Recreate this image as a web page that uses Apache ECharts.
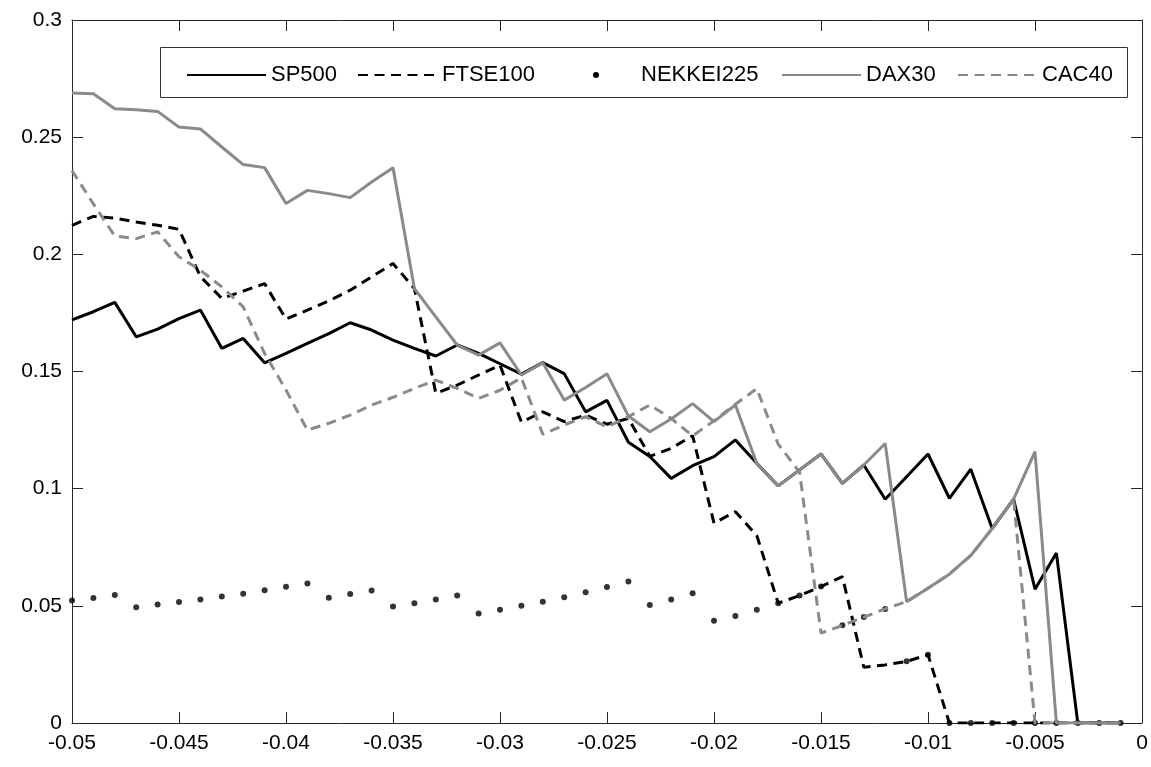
<!DOCTYPE html>
<html>
<head>
<meta charset="utf-8">
<script src="https://cdn.jsdelivr.net/npm/echarts@6/dist/echarts.min.js"></script>
<style>
html,body{margin:0;padding:0;background:#fff;}
#chart{width:1151px;height:767px;}
</style>
</head>
<body>
<div id="chart"></div>
<script>
// x positions (threshold)
const xValues = [-0.050,-0.049,-0.048,-0.047,-0.046,-0.045,-0.044,-0.043,-0.042,-0.041,
                 -0.040,-0.039,-0.038,-0.037,-0.036,-0.035,-0.034,-0.033,-0.032,-0.031,
                 -0.030,-0.029,-0.028,-0.027,-0.026,-0.025,-0.024,-0.023,-0.022,-0.021,
                 -0.020,-0.019,-0.018,-0.017,-0.016,-0.015,-0.014,-0.013,-0.012,-0.011,
                 -0.010,-0.009,-0.008,-0.007,-0.006,-0.005,-0.004,-0.003,-0.002,-0.001];

const sp500 = [0.172,0.1755,0.1795,0.1648,0.1681,0.1726,0.1762,0.1599,0.1641,0.1537,
               0.1577,0.162,0.1662,0.1708,0.1677,0.1634,0.1599,0.1566,0.1613,0.1577,
               0.1533,0.1489,0.1538,0.1491,0.1328,0.1377,0.1198,0.1137,0.1044,0.1098,
               0.1137,0.1208,0.1108,0.1012,0.108,0.1148,0.1023,0.1101,0.0955,0.1051,
               0.1148,0.0959,0.1083,0.083,0.0955,0.0571,0.0725,0,0,0];

const ftse100 = [0.2124,0.2162,0.2155,0.2138,0.2124,0.2107,0.1905,0.1812,0.1843,0.1875,
                 0.1724,0.1762,0.1801,0.1847,0.1904,0.1961,0.1854,0.1407,0.1442,0.1485,
                 0.1527,0.1284,0.1328,0.1286,0.1314,0.1275,0.13,0.1138,0.1172,0.1226,
                 0.0853,0.0902,0.08,0.0511,0.0544,0.0582,0.0625,0.0238,0.0248,0.0263,
                 0.0291,0,0,0,0,0,0,0,0,0];

const nekkei225 = [0.0523,0.0533,0.0546,0.0494,0.0506,0.0516,0.0527,0.054,0.0552,0.0567,
                   0.0581,0.0595,0.0534,0.055,0.0565,0.0497,0.0511,0.0527,0.0544,0.0467,
                   0.0483,0.05,0.0517,0.0537,0.0558,0.058,0.0604,0.0504,0.0527,0.0554,
                   0.0436,0.0457,0.0483,0.0511,0.0544,0.0582,0.0417,0.0452,0.0487,0.0263,
                   0.0291,0,0,0,0,0,0,0,0,0];

const dax30 = [0.2688,0.2685,0.2621,0.2617,0.261,0.2543,0.2535,0.2458,0.2383,0.237,
               0.2217,0.2273,0.2259,0.2242,0.2309,0.237,0.1854,0.1733,0.1613,0.157,
               0.1622,0.1485,0.1537,0.1378,0.1432,0.149,0.131,0.1243,0.1297,0.1363,
               0.1286,0.1357,0.1108,0.1012,0.108,0.1148,0.1023,0.1101,0.1193,0.0518,
               0.0575,0.0635,0.0715,0.083,0.0955,0.1158,0,0,0,0];

const cac40 = [0.2358,0.2215,0.2078,0.2067,0.2096,0.199,0.1932,0.1861,0.1776,0.1577,
               0.1421,0.125,0.1279,0.1314,0.1357,0.139,0.1428,0.1463,0.1428,0.1385,
               0.142,0.1473,0.1232,0.1272,0.1307,0.1264,0.1307,0.1357,0.13,0.1225,
               0.129,0.136,0.1427,0.119,0.107,0.0384,0.0416,0.0452,0.0487,0.0518,
               0.0575,0.0635,0.0715,0.083,0.0955,0,0,0,0,0];

const seriesNames = ['SP500','FTSE100','NEKKEI225','DAX30','CAC40'];
const xTickLabels = ['-0.05','-0.045','-0.04','-0.035','-0.03','-0.025','-0.02','-0.015','-0.01','-0.005','0'];
const yTickLabels = ['0','0.05','0.1','0.15','0.2','0.25','0.3'];

const X_MIN = -0.05, X_MAX = 0, X_INT = 0.005;
const Y_MIN = 0, Y_MAX = 0.3, Y_INT = 0.05;

const pairs = arr => arr.map((v, i) => [xValues[i], v]);

const FONT = 'Liberation Sans, Arial, sans-serif';
const AX = '#262626';
const GREY = '#8a8a8a';
const LW = 3;
const DASH = [10, 6.5];

const chart = echarts.init(document.getElementById('chart'), null, {renderer: 'canvas'});

function axisCommon(extra) {
  return Object.assign({
    type: 'value',
    axisLine: {show: true, onZero: false, lineStyle: {color: AX, width: 1}},
    axisTick: {show: true, inside: true, length: 11, lineStyle: {color: AX, width: 1}},
    splitLine: {show: false},
  }, extra);
}

const legendBase = {
  top: 59,
  itemWidth: 79,
  itemHeight: 14,
  textStyle: {fontFamily: FONT, fontSize: 22, color: '#000'},
  itemStyle: {opacity: 0},
  selectedMode: false,
  z: 10
};

const option = {
  animation: false,
  backgroundColor: '#fff',
  grid: {left: 72, right: 9, top: 20, bottom: 44, containLabel: false},
  xAxis: [
    axisCommon({
      position: 'bottom', min: X_MIN, max: X_MAX, interval: X_INT,
      axisLabel: {
        show: true, margin: 10, fontFamily: FONT, fontSize: 21, color: '#000',
        showMinLabel: true, showMaxLabel: true,
        formatter: v => xTickLabels[Math.round((v - X_MIN) / X_INT)]
      }
    }),
    axisCommon({
      position: 'top', min: X_MIN, max: X_MAX, interval: X_INT,
      axisLabel: {show: false}
    })
  ],
  yAxis: [
    axisCommon({
      position: 'left', min: Y_MIN, max: Y_MAX, interval: Y_INT,
      axisLabel: {
        show: true, margin: 10, fontFamily: FONT, fontSize: 21, color: '#000',
        showMinLabel: true, showMaxLabel: true,
        formatter: v => yTickLabels[Math.round((v - Y_MIN) / Y_INT)]
      }
    }),
    axisCommon({
      position: 'right', min: Y_MIN, max: Y_MAX, interval: Y_INT,
      axisLabel: {show: false}
    })
  ],
  graphic: [{
    type: 'rect', left: 160, top: 47, z: 9,
    shape: {width: 967, height: 50},
    style: {fill: '#fff', stroke: '#333', lineWidth: 1}
  }],
  legend: [
    Object.assign({}, legendBase, {left: 181, data: [seriesNames[0]]}),
    Object.assign({}, legendBase, {left: 352, data: [seriesNames[1]]}),
    Object.assign({}, legendBase, {left: 588, itemWidth: 6, itemHeight: 6,
      itemStyle: {opacity: 1},
      textStyle: {fontFamily: FONT, fontSize: 22, color: '#000', padding: [0, 0, 0, 37]},
      data: [{name: seriesNames[2], icon: 'circle'}]}),
    Object.assign({}, legendBase, {left: 776, data: [seriesNames[3]]}),
    Object.assign({}, legendBase, {left: 952, data: [seriesNames[4]]})
  ],
  series: [
    {
      name: seriesNames[0], type: 'line', data: pairs(sp500), symbol: 'none',
      lineStyle: {color: '#000', width: LW, type: 'solid'}, itemStyle: {color: '#000'}
    },
    {
      name: seriesNames[1], type: 'line', data: pairs(ftse100), symbol: 'none',
      lineStyle: {color: '#000', width: LW, type: DASH}, itemStyle: {color: '#000'}
    },
    {
      name: seriesNames[2], type: 'scatter', data: pairs(nekkei225), symbol: 'circle', symbolSize: 6,
      itemStyle: {color: '#000'}
    },
    {
      name: seriesNames[3], type: 'line', data: pairs(dax30), symbol: 'none',
      lineStyle: {color: GREY, width: LW, type: 'solid'}, itemStyle: {color: GREY}
    },
    {
      name: seriesNames[4], type: 'line', data: pairs(cac40), symbol: 'none',
      lineStyle: {color: GREY, width: LW, type: DASH}, itemStyle: {color: GREY}
    }
  ]
};
chart.setOption(option);
</script>
</body>
</html>
